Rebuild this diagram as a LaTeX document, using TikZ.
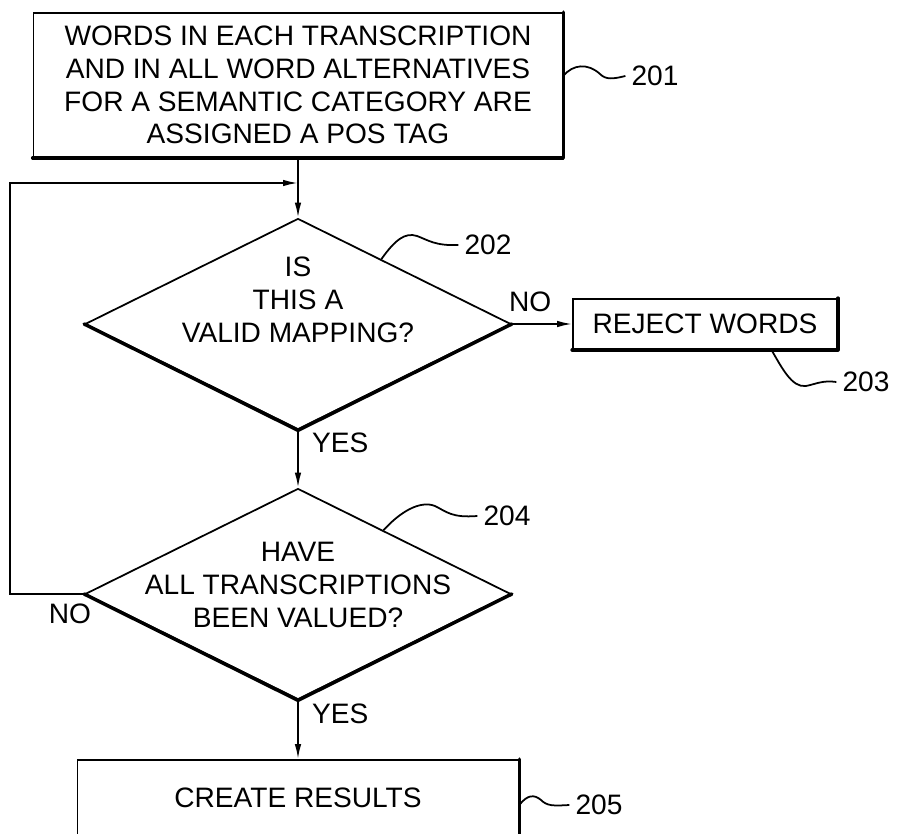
\documentclass[tikz,border=0pt]{standalone}
\usepackage{fontspec}
\setmainfont{Liberation Sans}
\usetikzlibrary{shapes.geometric,arrows.meta,calc}

\begin{document}
\begin{tikzpicture}[x=0.02cm,y=-0.02cm,
	font=\fontsize{16}{18.6}\selectfont,
	line width=1pt,
	box/.style={draw,rectangle,align=center,inner sep=0pt},
	decision/.style={draw,diamond,inner sep=0pt,minimum width=8.52cm,minimum height=4.22cm},
	heavy/.style={line width=2pt,line cap=round,line join=round},
	arr/.style={-{Latex[length=3mm,width=1.3mm]}},
	ref/.style={inner sep=3pt}]
	\useasboundingbox (0,0) rectangle (897,834);
	\clip (0,0) rectangle (897,834);
	% steps
	\node[box,minimum width=10.58cm,minimum height=2.88cm] (assign) at (298,85) {WORDS IN EACH TRANSCRIPTION\\AND IN ALL WORD ALTERNATIVES\\FOR A SEMANTIC CATEGORY ARE\\ASSIGNED A POS TAG};
	\node[decision] (valid) at (298,324) {};
	\node[align=center] (validtxt) at (298,300) {IS\\THIS A\\VALID MAPPING?};
	\node[box,minimum width=5.28cm,minimum height=1cm] (reject) at (705,324) {REJECT WORDS};
	\node[decision] (done) at (298,594) {};
	\node[align=center] (donetxt) at (298,585) {HAVE\\ALL TRANSCRIPTIONS\\BEEN VALUED?};
	\node[box,minimum width=8.82cm,minimum height=1.52cm] (results) at (298,798) {CREATE RESULTS};
	% shaded edges
	\draw[heavy] (assign.north east) -- (assign.south east) -- (assign.south west);
	\draw[heavy] (reject.north east) -- (reject.south east) -- (reject.south west);
	\draw[heavy] (results.north east) -- (results.south east);
	\draw[heavy] (valid.west) -- (valid.south) -- (valid.east);
	\draw[heavy] (done.west) -- (done.south) -- (done.east);
	% branch labels
	\node[ref,anchor=west] (yes1) at (306,443) {YES};
	\node[ref,anchor=west] (no1) at (503,302) {NO};
	\node[ref,anchor=west] (yes2) at (306,714) {YES};
	\node[ref] (no2) at (70,614) {NO};
	% flow
	\coordinate (loopin) at (298,183);
	\draw[arr] (assign.south) -- (valid.north);
	\draw[arr] (valid.east) -- (reject.west);
	\draw[arr] (valid.south) -- (done.north);
	\draw[arr] (done.south) -- (results.north);
	\draw[arr] (done.west) -- ++(-74,0) |- (loopin);
	% reference numerals
	\node[ref] (n201) at (655,76) {201};
	\node[ref] (n202) at (488,245) {202};
	\node[ref] (n203) at (866,382) {203};
	\node[ref] (n204) at (507,516) {204};
	\node[ref] (n205) at (599,805) {205};
	\draw (assign.east |- n201.west) .. controls (573,64) and (588,63) .. (600,74) .. controls (606,80) and (613,79) .. (n201.west);
	\draw ($(valid.north)!0.39!(valid.east)$) .. controls (395,240) and (405,232) .. (417,236) .. controls (428,240) and (435,246) .. (n202.west);
	\draw ($(reject.south)!0.5!(reject.south east)$) .. controls (782,368) and (792,388) .. (806,386) .. controls (816,384) and (823,380) .. (n203.west);
	\draw ($(done.north)!0.4!(done.east)$) .. controls (400,512) and (420,500) .. (435,506) .. controls (447,512) and (452,518) .. (n204.west);
	\draw (results.east |- n205.west) .. controls (527,795) and (534,794) .. (541,800) .. controls (547,806) and (553,806) .. (n205.west);
\end{tikzpicture}
\end{document}
